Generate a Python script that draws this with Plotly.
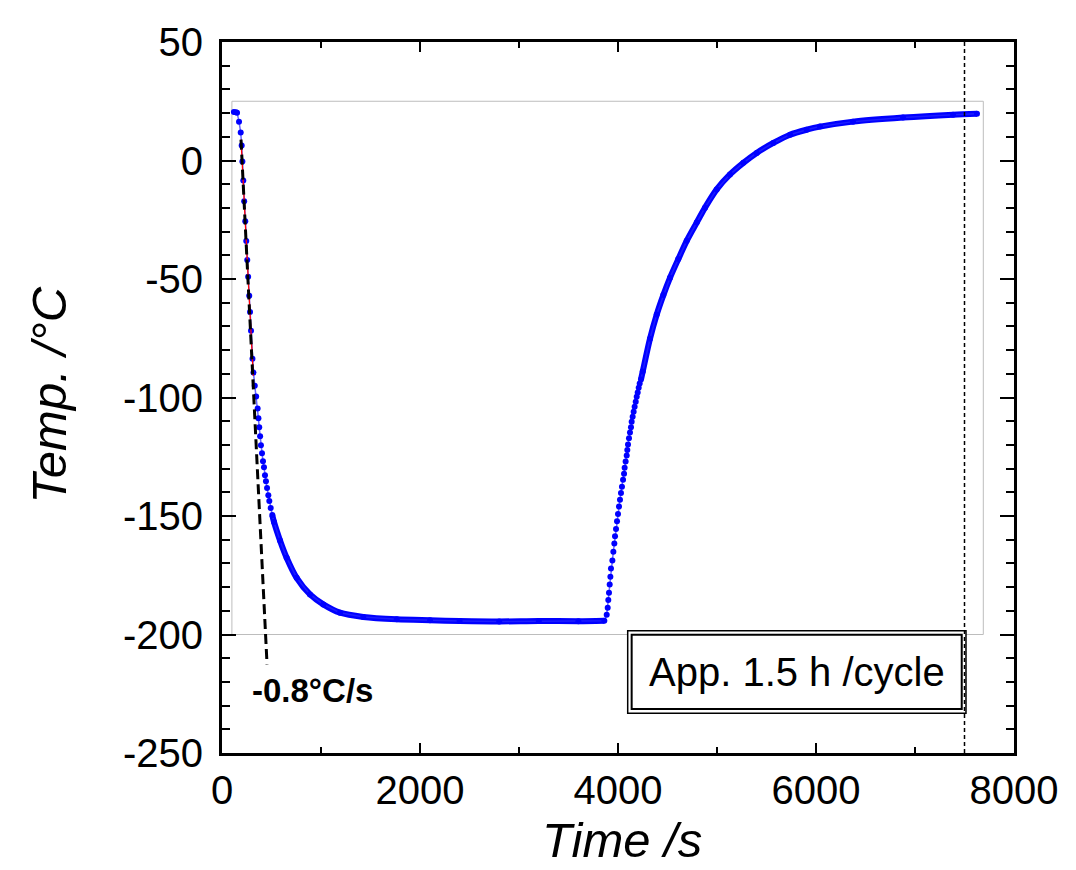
import plotly.graph_objects as go

# ---- data ----
time_s = [120, 140, 152, 172, 189, 199, 206, 215, 224, 235, 245, 255, 264, 275, 283,
          293, 308, 318, 331, 345, 360, 368, 376, 385, 393, 404, 414, 424, 434, 444,
          455, 468, 478, 492, 508, 525, 586, 653, 754, 889, 1023, 1192, 1427, 1765,
          2101, 2400, 2800, 3200, 3600, 3862,
          3886, 3896, 3902, 3909, 3916, 3923, 3929, 3943, 3953, 3963, 3970, 3980, 3990,
          4000, 4010, 4020, 4030, 4040, 4051, 4061, 4067, 4077, 4088, 4094, 4101, 4111,
          4121, 4131, 4138, 4148, 4158, 4168, 4179, 4189, 4199, 4209, 4219, 4232, 4250,
          4323, 4391, 4458, 4525, 4609, 4694, 4795, 4879, 4997, 5131, 5266, 5401, 5569,
          5738, 5906, 6040, 6374, 6879, 7384, 7626]
temp_c = [20.5, 20.4, 20.2, 16.4, 11.8, 6.3, -0.4, -8.4, -17.2, -25.6, -34.0, -42.0,
          -49.0, -57.1, -63.9, -71.8, -83.6, -89.5, -95.0, -99.6, -104.6, -108.8, -112.6,
          -116.4, -120.2, -123.5, -126.9, -129.4, -132.8, -135.3, -138.2, -141.2, -143.7,
          -146.6, -149.6, -152.5, -160.3, -167.6, -176.1, -183.1, -187.3, -190.8, -192.6,
          -193.6, -194.0, -194.3, -194.5, -194.3, -194.4, -194.2,
          -191.7, -188.7, -185.4, -182.4, -178.9, -175.6, -172.1, -168.8, -165.1, -161.6,
          -158.5, -155.5, -152.2, -149.2, -146.0, -143.1, -140.3, -137.7, -134.7, -132.2,
          -129.6, -127.0, -124.5, -122.1, -119.8, -117.2, -114.8, -112.6, -110.2, -108.1,
          -106.0, -103.9, -101.8, -99.7, -97.9, -95.9, -94.1, -92.4, -89.0,
          -75.2, -65.0, -56.8, -49.5, -41.6, -33.9, -26.2, -19.9, -12.2, -5.9, -1.0, 3.2,
          7.4, 10.9, 13.0, 14.3, 16.4, 18.1, 19.3, 19.7]

fit_time = [192, 455]        # -0.8 C/s cooling-rate guide (black dashed)
fit_temp = [8.8, -212.6]
red_time = [192, 316]        # linear fit segment (red)
red_temp = [8.8, -90.8]
cycle_time = 7500            # end of one cycle (vertical dashed)

x_ticks = [0, 2000, 4000, 6000, 8000]
y_ticks = [50, 0, -50, -100, -150, -200, -250]

# dense (overlapping dots) parts of the curve drawn as a thick band
dense_x, dense_y = [], []
for t, v in zip(time_s, temp_c):
    if 500 <= t <= 3870:
        dense_x.append(t); dense_y.append(v)
dense_x.append(None); dense_y.append(None)
for t, v in zip(time_s, temp_c):
    if t >= 4232:
        dense_x.append(t); dense_y.append(v)

FONT = "Liberation Sans, Arial, sans-serif"
BLUE = "#0000ff"

fig = go.Figure()
fig.add_trace(go.Scatter(x=dense_x, y=dense_y, mode="lines",
                         line=dict(color=BLUE, width=6, shape="spline", smoothing=0.8),
                         hoverinfo="skip", showlegend=False))
fig.add_trace(go.Scatter(x=time_s, y=temp_c, mode="lines+markers",
                         line=dict(color="rgba(40,40,255,0.7)", width=1.5),
                         marker=dict(color=BLUE, size=6, line=dict(width=0)),
                         showlegend=False))
fig.add_trace(go.Scatter(x=red_time, y=red_temp, mode="lines",
                         line=dict(color="red", width=1.3), showlegend=False))
fig.add_trace(go.Scatter(x=fit_time, y=fit_temp, mode="lines",
                         line=dict(color="black", width=3, dash="10px,5px"),
                         showlegend=False))

shapes = [
    # thin grey inner frame
    dict(type="rect", xref="x", yref="y", x0=100, x1=7690, y0=-200, y1=25,
         line=dict(color="#bdbdbd", width=1), layer="below"),
    # double-bordered text box
    dict(type="rect", xref="x", yref="y", x0=4098, x1=7515, y0=-233.2, y1=-198.4,
         line=dict(color="black", width=1.5), fillcolor="white", layer="above"),
    dict(type="rect", xref="x", yref="y", x0=4138, x1=7472, y0=-231.4, y1=-200.1,
         line=dict(color="black", width=2), layer="above"),
    # vertical dashed cycle line
    dict(type="line", xref="x", yref="paper", x0=cycle_time, x1=cycle_time, y0=0, y1=1,
         line=dict(color="black", width=1.5, dash="4px,3px"), layer="above"),
]

annotations = [
    dict(text="App. 1.5 h /cycle", xref="x", yref="y", x=5805, y=-215.8,
         showarrow=False, font=dict(family=FONT, size=40, color="black"),
         xanchor="center", yanchor="middle"),
    dict(text="<b>-0.8°C/s</b>", xref="x", yref="y", x=915, y=-223.5,
         showarrow=False, font=dict(family=FONT, size=33, color="black"),
         xanchor="center", yanchor="middle"),
    dict(text="Temp. /°C", xref="paper", yref="paper", x=-0.219, y=0.5035,
         textangle=-90, showarrow=False,
         font=dict(family=FONT, size=49, color="black", style="italic"),
         xanchor="center", yanchor="middle"),
    dict(text="Time /s", xref="paper", yref="paper", x=0.505, y=-0.1635,
         showarrow=False,
         font=dict(family=FONT, size=49, color="black", style="italic"),
         xanchor="center", yanchor="bottom"),
]

fig.update_layout(
    width=1076, height=870,
    margin=dict(l=222, r=62, t=42, b=117),
    paper_bgcolor="white", plot_bgcolor="white",
    font=dict(family=FONT, color="black"),
    shapes=shapes, annotations=annotations,
    xaxis=dict(range=[0, 8000], tickvals=x_ticks, ticktext=[str(v) for v in x_ticks],
               showline=True, linewidth=3, linecolor="black", mirror="allticks",
               ticks="inside", ticklen=10, tickwidth=2, tickcolor="black",
               minor=dict(tickvals=[1000, 3000, 5000, 7000], ticks="inside", ticklen=6,
                          tickwidth=2, tickcolor="black"),
               showgrid=False, zeroline=False,
               tickfont=dict(family=FONT, size=40, color="black")),
    yaxis=dict(range=[-250, 50], tickvals=y_ticks, ticktext=[str(v) for v in y_ticks],
               showline=True, linewidth=3, linecolor="black", mirror="allticks",
               ticks="inside", ticklen=14, tickwidth=2, tickcolor="black",
               minor=dict(dtick=10, tick0=0, ticks="inside", ticklen=8,
                          tickwidth=2, tickcolor="black"),
               showgrid=False, zeroline=False, ticklabelstandoff=8,
               tickfont=dict(family=FONT, size=40, color="black")),
)

fig.write_html("out.html",
               config={"displayModeBar": False},
               post_script="document.body.style.margin='0';"
                           "document.body.style.overflow='hidden';")
